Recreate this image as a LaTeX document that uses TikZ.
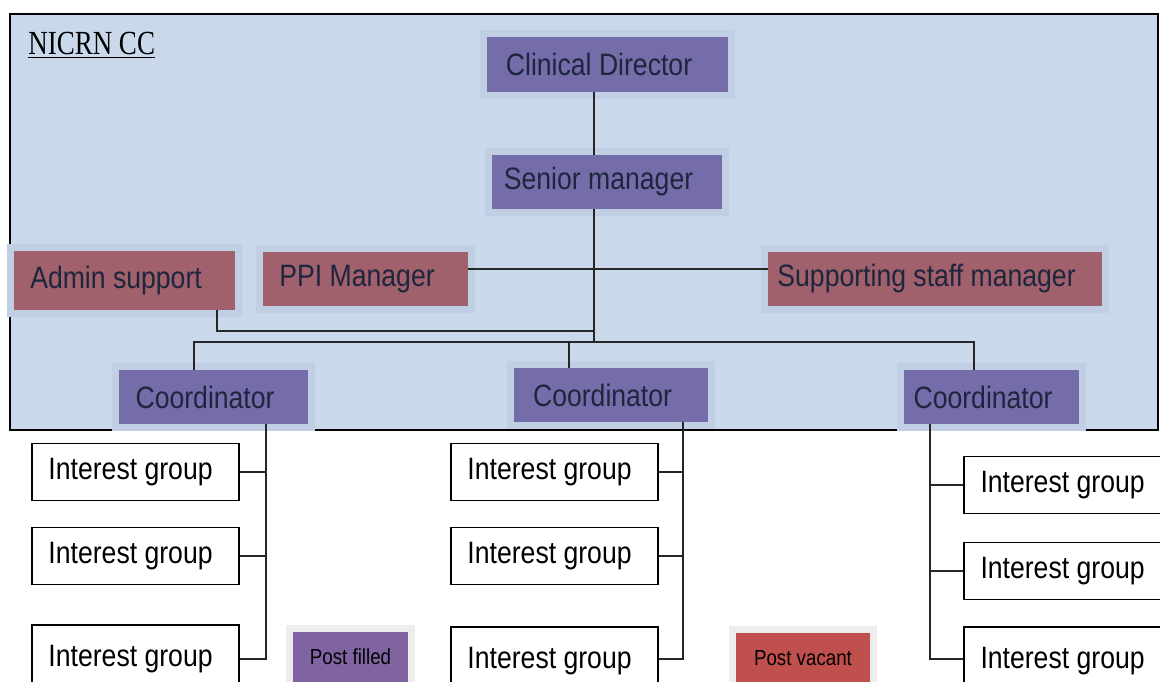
\documentclass[tikz,border=0pt]{standalone}
\usepackage{fontspec}
\setmainfont{Liberation Sans}[FakeStretch=0.86]
\newfontfamily\headserif{Liberation Serif}[FakeStretch=0.8]

\definecolor{panelblue}{RGB}{201,217,235}
\definecolor{haloblue}{RGB}{192,207,227}
\definecolor{postpurple}{RGB}{116,109,170}
\definecolor{postred}{RGB}{160,96,108}
\definecolor{keypurple}{RGB}{128,100,162}
\definecolor{keyred}{RGB}{192,80,77}
\definecolor{postnavy}{RGB}{30,38,62}

\begin{document}
\begin{tikzpicture}[x=0.025cm, y=-0.025cm,
    post/.style={
        inner sep=0pt,
        minimum height=1.35cm,
        text=postnavy,
        font=\fontsize{22}{26}\selectfont,
        execute at begin node={\hspace*{-12pt}},
        preaction={draw=haloblue, line width=0.35cm}
    },
    filled/.style={post, fill=postpurple},
    vacant/.style={post, fill=postred},
    group/.style={
        draw,
        line width=0.8pt,
        fill=white,
        inner sep=0pt,
        minimum width=5.175cm,
        minimum height=1.425cm,
        font=\fontsize{22}{26}\selectfont,
        execute at begin node={\hspace*{-7pt}}
    },
    key/.style={
        inner sep=0pt,
        minimum height=1.25cm,
        font=\fontsize{15.5}{18}\selectfont,
        preaction={draw=black!7, line width=0.35cm}
    },
    link/.style={line width=1.1pt, draw=black!85}
]

\useasboundingbox (0,0) rectangle (1160,682);
\clip (0,0) rectangle (1160,682);

%%%%%%%%%%%%%%%%%%%%%%%%
% NICRN CC panel
%%%%%%%%%%%%%%%%%%%%%%%%

\fill[panelblue] (10,14) rectangle (1158,430);
\draw[line width=0.9pt] (10,14) rectangle (1158,430);

\node[anchor=base west, inner sep=0pt, font=\headserif\fontsize{24}{28}\selectfont]
    (title) at (28,55) {\underline{NICRN CC}};

% --- Management ---
\node[filled, minimum width=6.03cm] (cd) at (607.5,64.5) {Clinical Director};
\node[filled, minimum width=5.75cm] (sm) at (607,182) {Senior manager};

% --- Support posts ---
\node[vacant, minimum width=5.525cm, minimum height=1.475cm] (admin) at (124.5,280.5) {Admin support};
\node[vacant, minimum width=5.125cm] (ppi) at (365.5,279) {PPI Manager};
\node[vacant, minimum width=8.35cm] (staff) at (935,279) {Supporting staff manager};

% --- Coordinators ---
\node[filled, minimum width=4.725cm] (coA) at (213.5,397) {Coordinator};
\node[filled, minimum width=4.85cm] (coB) at (611,395) {Coordinator};
\node[filled, minimum width=4.375cm] (coC) at (991.5,397) {Coordinator};

%%%%%%%%%%%%%%%%%%%%%%%%
% Interest groups
%%%%%%%%%%%%%%%%%%%%%%%%

% --- Column A ---
\node[group] (igA1) at (135.5,472) {Interest group};
\node[group] (igA2) at (135.5,556) {Interest group};
\node[group, minimum height=1.7cm] (igA3) at (135.5,659) {Interest group};

% --- Column B ---
\node[group] (igB1) at (554.5,472) {Interest group};
\node[group] (igB2) at (554.5,556) {Interest group};
\node[group, minimum height=1.7cm] (igB3) at (554.5,661) {Interest group};

% --- Column C ---
\node[group] (igC1) at (1067.5,485) {Interest group};
\node[group] (igC2) at (1067.5,571) {Interest group};
\node[group, minimum height=1.7cm] (igC3) at (1067.5,661) {Interest group};

%%%%%%%%%%%%%%%%%%%%%%%%
% Key
%%%%%%%%%%%%%%%%%%%%%%%%

\node[key, fill=keypurple, minimum width=2.875cm] (keyfilled) at (350.5,657) {Post filled};
\node[key, fill=keyred, minimum width=3.35cm] (keyvacant) at (803,658) {Post vacant};

%%%%%%%%%%%%%%%%%%%%%%%%
% Lines
%%%%%%%%%%%%%%%%%%%%%%%%

\coordinate (trunk) at (594,342);
\coordinate (staffbus) at (594,269);
\coordinate (adbus) at (217,331);
\coordinate (busA) at (194,342);
\coordinate (busB) at (569,342);
\coordinate (busC) at (974,342);
\coordinate (spineA) at (266,659);
\coordinate (spineB) at (683,659);
\coordinate (spineC) at (930,659);

% Clinical Director - Senior manager - coordinators
\draw[link] (cd.south -| trunk) -- (sm.north -| trunk);
\draw[link] (sm.south -| trunk) -- (trunk);
\draw[link] (ppi.east |- staffbus) -- (staff.west |- staffbus);
\draw[link] (admin.south -| adbus) -- (adbus) -- (trunk |- adbus);
\draw[link] (coA.north -| busA) -- (busA) -- (busC) -- (coC.north -| busC);
\draw[link] (busB) -- (coB.north -| busB);

% Coordinators - interest groups
\draw[link] (coA.south -| spineA) -- (spineA) -- (igA3.east |- spineA);
\draw[link] (igA1.east) -- (igA1.east -| spineA);
\draw[link] (igA2.east) -- (igA2.east -| spineA);

\draw[link] (coB.south -| spineB) -- (spineB) -- (igB3.east |- spineB);
\draw[link] (igB1.east) -- (igB1.east -| spineB);
\draw[link] (igB2.east) -- (igB2.east -| spineB);

\draw[link] (coC.south -| spineC) -- (spineC) -- (igC3.west |- spineC);
\draw[link] (igC1.west) -- (igC1.west -| spineC);
\draw[link] (igC2.west) -- (igC2.west -| spineC);

\end{tikzpicture}
\end{document}
